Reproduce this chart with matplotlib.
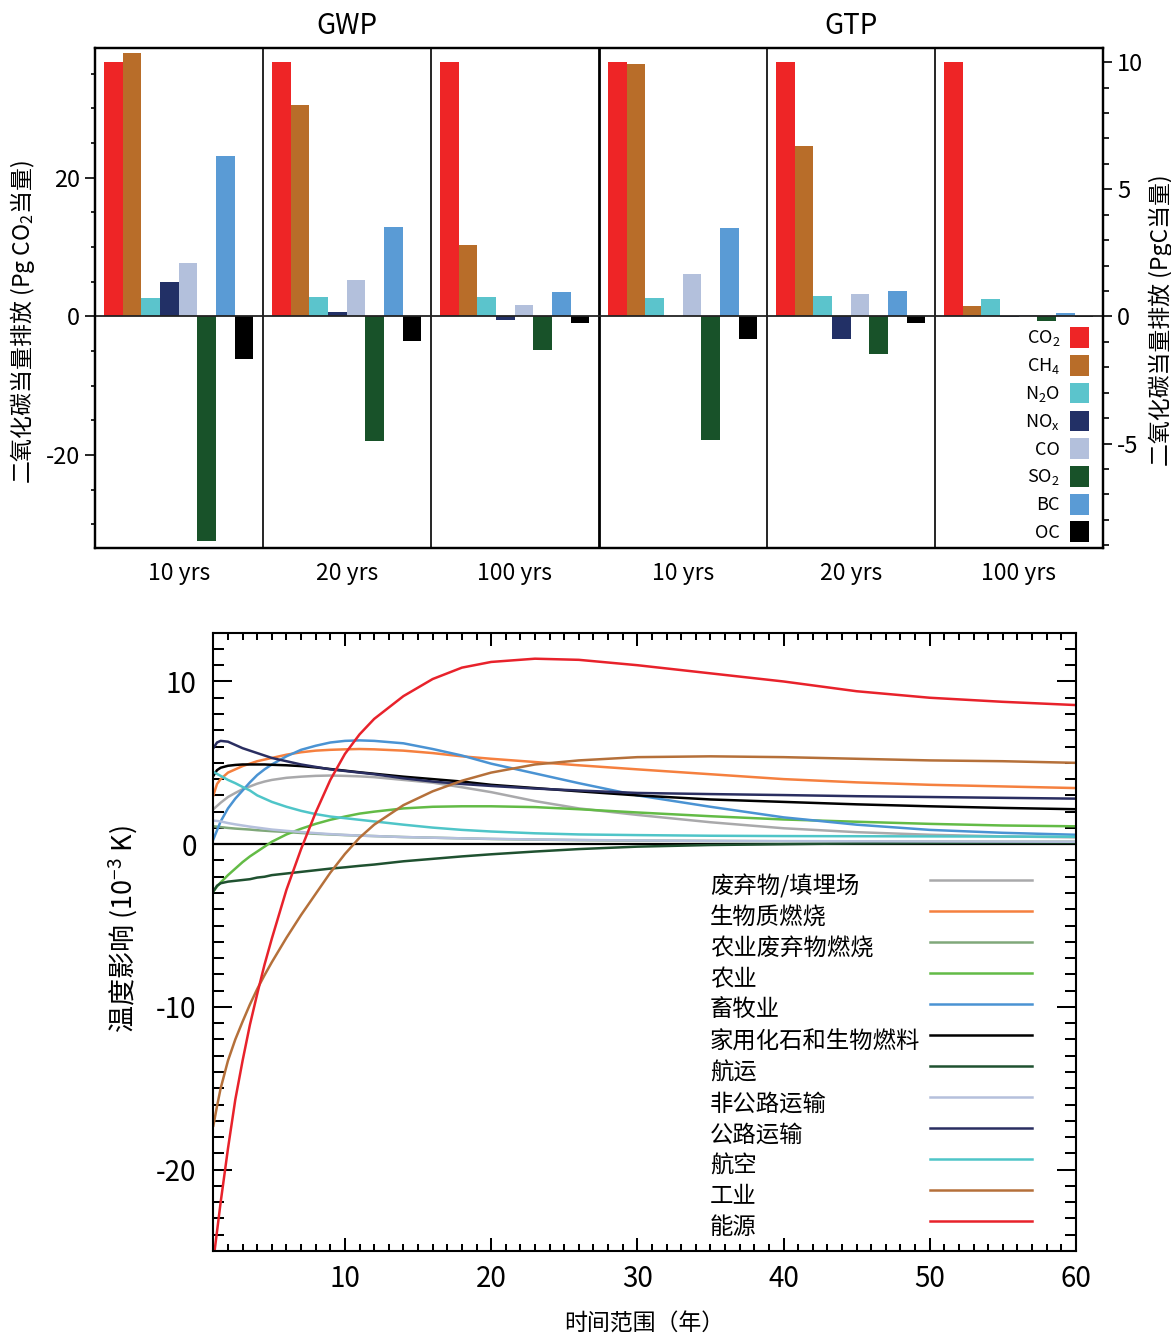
import numpy as np
import matplotlib
matplotlib.use('Agg')
import matplotlib.pyplot as plt
import matplotlib.transforms as mtransforms
from matplotlib.patches import Patch
from matplotlib.ticker import MultipleLocator, FixedLocator

plt.rcParams['font.family'] = ['Noto Sans CJK SC', 'DejaVu Sans']
plt.rcParams['axes.unicode_minus'] = False
plt.rcParams['mathtext.fontset'] = 'custom'
plt.rcParams['mathtext.rm'] = 'Noto Sans CJK SC'
plt.rcParams['mathtext.it'] = 'Noto Sans CJK SC'
plt.rcParams['mathtext.bf'] = 'Noto Sans CJK SC'
plt.rcParams['mathtext.default'] = 'rm'

# ---- top panel: CO2-equivalent emissions (Pg CO2 eq) ----
gases = ['CO$_2$', 'CH$_4$', 'N$_2$O', 'NO$_x$', 'CO', 'SO$_2$', 'BC', 'OC']
gas_colors = ['#ee2526', '#b86d29', '#5bc4cc', '#223066', '#b3c0dc', '#185229', '#5a9bd5', '#000000']
horizons = ['10 yrs', '20 yrs', '100 yrs']
metrics = ['GWP', 'GTP']

gwp_10 = [36.7, 38.0, 2.7, 4.95, 7.7, -32.4, 23.1, -6.1]
gwp_20 = [36.7, 30.5, 2.8, 0.65, 5.3, -18.0, 12.9, -3.5]
gwp_100 = [36.7, 10.3, 2.8, -0.45, 1.65, -4.9, 3.5, -1.0]
gtp_10 = [36.7, 36.4, 2.7, 0.1, 6.1, -17.8, 12.8, -3.3]
gtp_20 = [36.7, 24.6, 2.95, -3.3, 3.25, -5.35, 3.7, -1.0]
gtp_100 = [36.7, 1.55, 2.55, -0.1, 0.15, -0.65, 0.5, -0.05]

# ---- bottom panel: temperature response (10^-3 K) ----
years = [1, 1.25, 1.5, 2, 2.5, 3, 3.5, 4, 4.5, 5, 6, 7, 8, 9, 10, 11, 12, 14, 16, 18,
         20, 23, 26, 30, 35, 40, 45, 50, 55, 60]

waste = [2.15, 2.35, 2.55, 2.9, 3.15, 3.38, 3.55, 3.72, 3.85, 3.95, 4.08, 4.15, 4.2, 4.22, 4.2,
         4.17, 4.12, 3.95, 3.78, 3.5, 3.2, 2.65, 2.2, 1.8, 1.35, 0.98, 0.74, 0.58, 0.48, 0.42]
biomass = [3.0, 3.7, 4.0, 4.4, 4.6, 4.8, 4.95, 5.1, 5.2, 5.3, 5.5, 5.65, 5.75, 5.8, 5.83,
           5.85, 5.83, 5.75, 5.6, 5.4, 5.25, 5.05, 4.85, 4.6, 4.3, 4.0, 3.8, 3.65, 3.55, 3.45]
ag_waste = [1.1, 1.08, 1.05, 1.0, 0.96, 0.93, 0.9, 0.86, 0.83, 0.8, 0.75, 0.69, 0.64, 0.6, 0.56,
            0.53, 0.5, 0.44, 0.4, 0.36, 0.32, 0.28, 0.25, 0.22, 0.2, 0.18, 0.17, 0.16, 0.15, 0.15]
agriculture = [-2.9, -2.6, -2.35, -1.9, -1.5, -1.1, -0.75, -0.45, -0.15, 0.15, 0.6, 0.95, 1.25, 1.5, 1.7,
               1.88, 2.0, 2.2, 2.3, 2.33, 2.33, 2.28, 2.15, 1.95, 1.72, 1.52, 1.38, 1.25, 1.15, 1.1]
livestock = [0.3, 0.85, 1.4, 2.2, 2.8, 3.3, 3.8, 4.25, 4.6, 4.9, 5.4, 5.8, 6.05, 6.25, 6.35,
             6.38, 6.35, 6.2, 5.85, 5.45, 4.95, 4.35, 3.75, 3.0, 2.3, 1.65, 1.2, 0.88, 0.7, 0.58]
domestic = [4.2, 4.55, 4.7, 4.82, 4.87, 4.9, 4.9, 4.9, 4.9, 4.88, 4.85, 4.8, 4.72, 4.62, 4.52,
            4.42, 4.33, 4.15, 4.0, 3.85, 3.65, 3.45, 3.25, 3.0, 2.75, 2.6, 2.45, 2.33, 2.23, 2.15]
shipping = [-2.9, -2.55, -2.4, -2.3, -2.25, -2.2, -2.15, -2.05, -2.0, -1.9, -1.8, -1.7, -1.6, -1.5, -1.42,
            -1.33, -1.25, -1.05, -0.9, -0.75, -0.62, -0.45, -0.3, -0.15, -0.05, 0.0, 0.05, 0.08, 0.1, 0.1]
offroad = [1.45, 1.43, 1.4, 1.3, 1.22, 1.15, 1.08, 1.02, 0.96, 0.9, 0.82, 0.75, 0.68, 0.62, 0.57,
           0.53, 0.5, 0.44, 0.4, 0.36, 0.33, 0.29, 0.26, 0.23, 0.2, 0.19, 0.18, 0.17, 0.16, 0.15]
road = [5.9, 6.25, 6.35, 6.3, 6.1, 5.9, 5.75, 5.6, 5.45, 5.3, 5.1, 4.9, 4.75, 4.6, 4.5,
        4.4, 4.3, 4.05, 3.85, 3.7, 3.58, 3.42, 3.3, 3.15, 3.08, 3.02, 2.95, 2.9, 2.85, 2.8]
aviation = [4.45, 4.32, 4.2, 3.95, 3.75, 3.52, 3.3, 3.0, 2.8, 2.6, 2.3, 2.05, 1.85, 1.7, 1.6,
            1.5, 1.4, 1.2, 1.02, 0.88, 0.78, 0.67, 0.6, 0.56, 0.52, 0.5, 0.49, 0.48, 0.47, 0.46]
industry = [-17.3, -16.1, -15.0, -13.3, -12.0, -10.9, -9.85, -8.9, -8.05, -7.25, -5.75, -4.35, -3.05, -1.75, -0.6,
            0.4, 1.2, 2.4, 3.25, 3.9, 4.4, 4.9, 5.15, 5.35, 5.4, 5.35, 5.25, 5.15, 5.1, 5.0]
energy = [-25.6, -23.8, -22.0, -18.7, -15.7, -13.3, -11.1, -9.2, -7.4, -5.8, -2.8, -0.3, 1.95, 3.95, 5.55,
          6.75, 7.7, 9.1, 10.15, 10.85, 11.2, 11.4, 11.33, 11.0, 10.5, 10.0, 9.4, 9.0, 8.75, 8.55]

sector_names = ['废弃物/填埋场', '生物质燃烧', '农业废弃物燃烧', '农业', '畜牧业', '家用化石和生物燃料',
                '航运', '非公路运输', '公路运输', '航空', '工业', '能源']
sector_values = [waste, biomass, ag_waste, agriculture, livestock, domestic,
                 shipping, offroad, road, aviation, industry, energy]
sector_colors = ['#a9a9ab', '#f5803f', '#80a87a', '#63bb46', '#4a93d3', '#000000',
                 '#1f5130', '#b5c0dc', '#2a2e61', '#4fc5c8', '#b5703a', '#e8222b']

fig = plt.figure(figsize=(11.71, 13.35), dpi=100)

# ================= top panel =================
ax = fig.add_axes([0.0811, 0.5895, 0.8608, 0.3745])
groups = [gwp_10, gwp_20, gwp_100, gtp_10, gtp_20, gtp_100]
bw = 0.111
for g, vals in enumerate(groups):
    xs = g + 0.1095 + bw * np.arange(len(vals))
    ax.bar(xs, vals, width=bw, color=gas_colors, linewidth=0, zorder=2)

ax.set_xlim(0, 6)
ax.set_ylim(-33.4, 38.7)
for xv in [1, 2, 4, 5]:
    ax.axvline(xv, color='black', lw=1.2, zorder=3)
ax.axvline(3, color='black', lw=2.0, zorder=3)
ax.axhline(0, color='#222222', lw=1.3, zorder=3)
for s in ax.spines.values():
    s.set_linewidth(1.6)

ax.set_xticks(np.arange(6) + 0.5)
ax.set_xticklabels(horizons * 2, fontsize=16.5)
ax.tick_params(axis='x', length=0, pad=10)
ax.yaxis.set_major_locator(FixedLocator([-20, 0, 20]))
ax.yaxis.set_minor_locator(MultipleLocator(5))
ax.tick_params(axis='y', which='major', direction='out', length=7, width=1.2, pad=4, labelsize=17)
ax.tick_params(axis='y', which='minor', direction='out', length=3, width=1.2)
ax.set_ylabel('二氧化碳当量排放 (Pg CO$_2$当量)', fontsize=16.5)
ax.yaxis.set_label_coords(-0.058, 0.452)

trans = mtransforms.blended_transform_factory(ax.transData, ax.transAxes)
for k, m in enumerate(metrics):
    ax.text(1.5 + 3 * k, 1.044, m, transform=trans, ha='center', va='center', fontsize=20)

ax2 = ax.twinx()
ax2.set_ylim(-33.4 * 12 / 44, 38.7 * 12 / 44)
ax2.yaxis.set_major_locator(FixedLocator([-5, 0, 5, 10]))
ax2.yaxis.set_minor_locator(MultipleLocator(1))
ax2.tick_params(axis='y', which='major', direction='out', length=6.5, width=1.2, pad=3.5, labelsize=17)
ax2.tick_params(axis='y', which='minor', direction='out', length=4, width=1.2)
ax2.set_ylabel('二氧化碳当量排放 (PgC当量)', fontsize=16.5)
ax2.yaxis.set_label_coords(1.0456, 0.456)
for s in ax2.spines.values():
    s.set_linewidth(1.6)

handles = [Patch(facecolor=c, edgecolor='none') for c in gas_colors]
ax.legend(handles, gases, loc='lower right', bbox_to_anchor=(0.995, -0.006),
          markerfirst=False, frameon=False, fontsize=13,
          handlelength=1.05, handleheight=1.4, handletextpad=0.55, labelspacing=0.36,
          borderpad=0.3, borderaxespad=0.2)

# ================= bottom panel =================
bx = fig.add_axes([0.1822, 0.0629, 0.7366, 0.4632])
bx.axhline(0, color='black', lw=1.6, zorder=1.5)
for name, vals, col in zip(sector_names, sector_values, sector_colors):
    bx.plot(years, vals, color=col, lw=1.8, zorder=2)

bx.set_xlim(1, 60)
bx.set_ylim(-25, 13)
bx.xaxis.set_major_locator(FixedLocator([10, 20, 30, 40, 50, 60]))
bx.xaxis.set_minor_locator(MultipleLocator(1))
bx.yaxis.set_major_locator(MultipleLocator(10))
bx.yaxis.set_minor_locator(MultipleLocator(1))
bx.tick_params(axis='both', which='both', direction='in', top=True, right=True, width=1.45)
bx.tick_params(axis='x', which='major', length=9.4, pad=9, labelsize=20)
bx.tick_params(axis='x', which='minor', length=5)
bx.tick_params(axis='y', which='major', length=13.7, pad=12, labelsize=20)
bx.tick_params(axis='y', which='minor', length=8)
for s in bx.spines.values():
    s.set_linewidth(1.5)

bx.set_xlabel('时间范围（年）', fontsize=16.5)
bx.xaxis.set_label_coords(0.5, -0.1)
bx.set_ylabel(r'温度影响 (10$^{-3}$ K)', fontsize=19.5)
bx.yaxis.set_label_coords(-0.085, 0.52)

# sector legend: labels left, line samples right
for k, (name, col) in enumerate(zip(sector_names, sector_colors)):
    yy = 0.600 - k * 0.05014
    bx.text(0.5757, yy - 0.011, name, transform=bx.transAxes, ha='left', va='center', fontsize=16.8)
    bx.plot([0.8307, 0.949], [yy, yy], color=col, lw=1.8, transform=bx.transAxes)

fig.savefig('out.png', dpi=100)
